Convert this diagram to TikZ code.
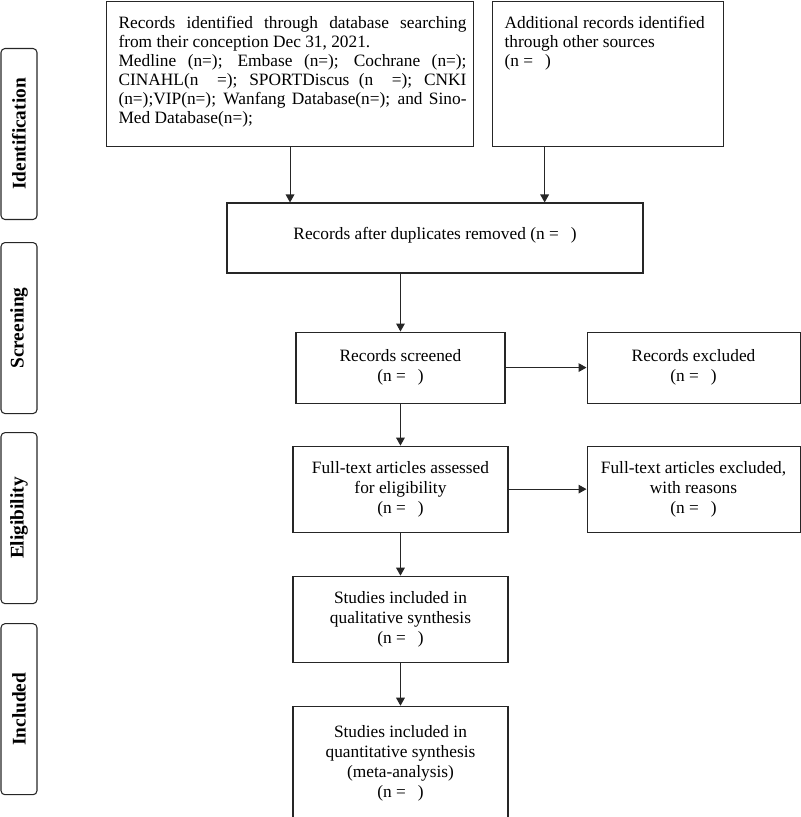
\documentclass[tikz,border=0pt]{standalone}
\usepackage{fontspec}
\setmainfont{Liberation Serif}
\usepackage{tikz}
\usetikzlibrary{positioning,arrows.meta}

% fixed-height box with the text set from the top
\newcommand{\topbox}[3]{\parbox[t][#1][t]{#2}{#3}}

\begin{document}
\begin{tikzpicture}[
    font=\fontsize{13}{15}\selectfont,
    box/.style={draw=black!85,line width=0.8pt,rectangle,align=center,inner sep=2pt},
    topbox/.style={draw=black!85,line width=0.8pt,rectangle,inner sep=0pt},
    phase/.style={draw=black!85,line width=0.8pt,rectangle,rounded corners=3pt,minimum width=27pt,minimum height=128.25pt,inner sep=0pt,font=\bfseries\fontsize{14.5}{16}\selectfont},
    arr/.style={line width=0.8pt,draw=black!85,-{Triangle[length=6pt,width=6.5pt]}}
  ]
        \useasboundingbox (0,0) rectangle (600pt,-612.75pt);
        % phases on the left
        \node[phase] (ident) at (14.25pt,-100.5pt) {\rotatebox{90}{Identification}};
        \node[phase,below=16.5pt of ident] (screen) {\rotatebox{90}{Screening}};
        \node[phase,below=13.5pt of screen] (elig) {\rotatebox{90}{Eligibility}};
        \node[phase,below=14.25pt of elig] (incl) {\rotatebox{90}{Included}};
        % identification
        \node[topbox,minimum width=275.25pt,anchor=north west,font=\fontsize{13}{14.25}\selectfont] (dbase) at (79.5pt,-0.75pt) {\hspace{9pt}\topbox{108.75pt}{261pt}{\vspace{11pt}Records identified through database searching from their conception Dec 31, 2021.\\ Medline (n=); Embase (n=); Cochrane (n=); CINAHL(n\ \ =); SPORTDiscus (n\ \ =); CNKI (n=);VIP(n=); Wanfang Database(n=); and Sino-Med Database(n=);}\hspace{5.25pt}\null};
        \node[topbox,minimum width=173.25pt,right=13.5pt of dbase,font=\fontsize{13}{14.25}\selectfont] (other) {\hspace{9pt}\topbox{108.75pt}{155pt}{\raggedright\vspace{11pt}Additional records identified through other sources\\ (n =\hspace{9pt})}\hspace{9.25pt}\null};
        \node[topbox,minimum width=312pt] (dup) at (326.25pt,-178.5pt) {\topbox{52.5pt}{312pt}{\centering\vspace{18.5pt}Records after duplicates removed (n =\hspace{9pt})}};
        % screening
        \node[box,minimum width=156.75pt,minimum height=53.25pt,below=43.5pt of dup,xshift=-25.9pt] (screened) {Records screened\\ (n =\hspace{9pt})};
        \node[box,minimum width=159.75pt,minimum height=53.25pt,right=60.75pt of screened] (excl) {Records excluded\\ (n =\hspace{9pt})};
        % eligibility
        \node[box,minimum width=161.25pt,minimum height=64.5pt,below=31.5pt of screened] (fulltext) {Full-text articles assessed\\ for eligibility\\ (n =\hspace{9pt})};
        \node[box,minimum width=159.75pt,minimum height=64.5pt,right=58.5pt of fulltext] (ftexcl) {Full-text articles excluded,\\ with reasons\\ (n =\hspace{9pt})};
        % included
        \node[box,minimum width=161.25pt,minimum height=64.5pt,below=32.25pt of fulltext] (qual) {Studies included in\\ qualitative synthesis\\ (n =\hspace{9pt})};
        \node[box,minimum width=161.25pt,minimum height=85.5pt,below=32.25pt of qual] (quant) {Studies included in\\ quantitative synthesis\\ (meta-analysis)\\ (n =\hspace{9pt})};
        \coordinate (otherfoot) at ([xshift=-47.6pt]other.south);
        \draw[arr] (dbase.south) -- (dbase.south |- dup.north);
        \draw[arr] (otherfoot) -- (otherfoot |- dup.north);
        \draw[arr] (screened.north |- dup.south) -- (screened);
        \draw[arr] (screened) -- (excl);
        \draw[arr] (screened) -- (fulltext);
        \draw[arr] (fulltext) -- (ftexcl);
        \draw[arr] (fulltext) -- (qual);
        \draw[arr] (qual) -- (quant);
      \end{tikzpicture}
\end{document}
